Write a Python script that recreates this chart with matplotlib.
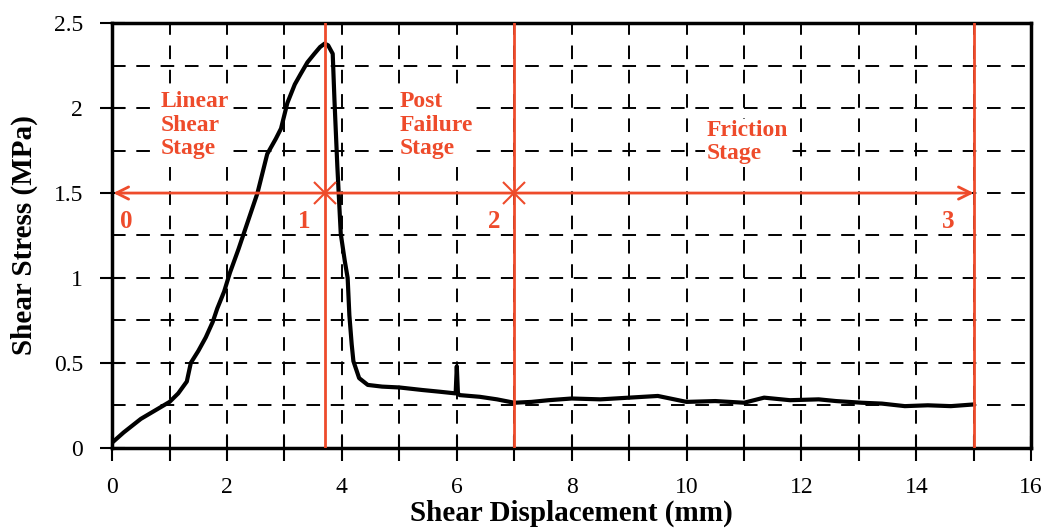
import matplotlib
matplotlib.use("Agg")
import matplotlib.pyplot as plt
from matplotlib.ticker import MultipleLocator

plt.rcParams['font.family'] = ['Liberation Serif', 'DejaVu Serif']

# traced shear stress curve
disp = [0.0, 0.2, 0.5, 0.8, 1.0, 1.15, 1.3, 1.37, 1.5, 1.63, 1.75, 1.83, 1.95, 2.05,
        2.2, 2.35, 2.53, 2.7, 2.85, 2.94, 3.05, 3.18, 3.28, 3.4, 3.52, 3.62, 3.7,
        3.76, 3.84, 3.87, 3.92, 3.98, 4.05, 4.1, 4.13, 4.17, 4.2, 4.3, 4.45, 4.7,
        5.0, 5.4, 5.7, 5.98, 6.0, 6.02, 6.05, 6.4, 6.7, 7.0, 7.3, 7.6, 8.0, 8.5,
        9.0, 9.5, 10.0, 10.5, 11.0, 11.35, 11.8, 12.3, 12.6, 13.05, 13.4, 13.8,
        14.2, 14.6, 15.0]
stress = [0.03, 0.09, 0.17, 0.23, 0.27, 0.32, 0.39, 0.50, 0.57, 0.65, 0.74, 0.82,
          0.92, 1.03, 1.17, 1.32, 1.50, 1.73, 1.82, 1.88, 2.03, 2.14, 2.20, 2.27,
          2.32, 2.36, 2.38, 2.37, 2.32, 2.05, 1.66, 1.26, 1.10, 1.00, 0.78, 0.61,
          0.51, 0.41, 0.37, 0.36, 0.355, 0.34, 0.33, 0.32, 0.48, 0.32, 0.31, 0.30,
          0.285, 0.265, 0.27, 0.28, 0.29, 0.285, 0.295, 0.305, 0.27, 0.275, 0.265,
          0.295, 0.28, 0.285, 0.275, 0.265, 0.26, 0.245, 0.25, 0.245, 0.255]

stage_bounds = [0, 3.7, 7.0, 15.0]
stage_marks = ['0', '1', '2', '3']
stage_names = ['Linear\nShear\nStage', 'Post\nFailure\nStage', 'Friction\nStage']
stage_name_x = [0.85, 5.0, 10.35]
stage_name_y = [2.1, 2.1, 1.93]
mark_x = [0.25, 3.35, 6.65, 14.55]
mark_y = 1.335
arrow_y = 1.5

red = '#EE4B2B'

fig = plt.figure(figsize=(10.48, 5.28), dpi=100)
ax = fig.add_axes([0.107, 0.152, 0.877, 0.804])

ax.set_xlim(0, 16)
ax.set_ylim(0, 2.5)
ax.xaxis.set_major_locator(MultipleLocator(2))
ax.xaxis.set_minor_locator(MultipleLocator(1))
ax.yaxis.set_minor_locator(MultipleLocator(0.25))
ax.set_yticks([0, 0.5, 1, 1.5, 2, 2.5])
ax.set_yticklabels(['0', '0.5', '1', '1.5', '2', '2.5'])

ax.grid(which='both', color='black', linestyle=(0, (7, 5.5)), linewidth=1.4)
ax.set_axisbelow(True)

ax.tick_params(which='both', direction='inout', length=18, width=1.5, labelsize=17)
ax.tick_params(axis='x', pad=12)
ax.tick_params(axis='y', pad=12)
ax.tick_params(axis='y', which='minor', length=0)
for s in ax.spines.values():
    s.set_linewidth(2.5)

ax.plot(disp, stress, color='black', linewidth=3, zorder=3)

# stage boundaries
for xb in stage_bounds[1:]:
    ax.axvline(xb, color=red, linewidth=2, zorder=4)

ax.annotate('', xy=(stage_bounds[0] + 0.02, arrow_y), xytext=(stage_bounds[-1], arrow_y),
            arrowprops=dict(arrowstyle='<->', color=red, lw=2, mutation_scale=22,
                            shrinkA=0, shrinkB=0), zorder=4)
ax.plot(stage_bounds[1:3], [arrow_y] * 2, 'x', color=red, markersize=16,
        markeredgewidth=1.5, zorder=4)

for xm, t in zip(mark_x, stage_marks):
    ax.text(xm, mark_y, t, color=red, fontsize=18, fontweight='bold',
            ha='center', va='center', zorder=5)
for xn, yn, t in zip(stage_name_x, stage_name_y, stage_names):
    ax.text(xn, yn, t, color=red, fontsize=17, fontweight='bold', ha='left',
            va='top', linespacing=1.15, zorder=5,
            bbox=dict(facecolor='white', edgecolor='none', pad=1))

ax.set_xlabel('Shear Displacement (mm)', fontsize=21, fontweight='bold')
ax.set_ylabel('Shear Stress (MPa)', fontsize=21, fontweight='bold')
ax.xaxis.set_label_coords(0.5, -0.155)
ax.xaxis.label.set_va('center')
ax.yaxis.set_label_coords(-0.095, 0.5)
ax.yaxis.label.set_va('center')

fig.savefig('out.png', dpi=100)
